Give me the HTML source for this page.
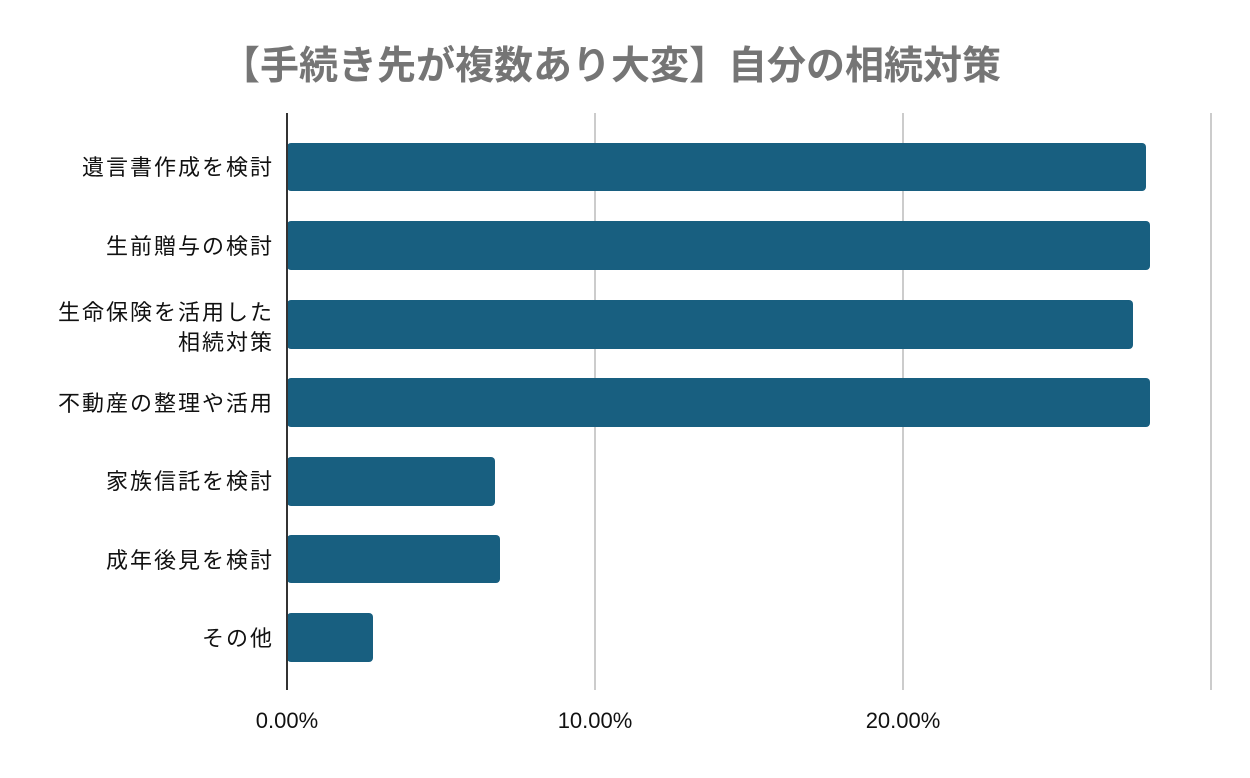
<!DOCTYPE html>
<html><head><meta charset="utf-8"><style>
body{margin:0;background:#fff;}
</style></head><body>
<svg width="1250" height="773" xmlns="http://www.w3.org/2000/svg">
<rect width="1250" height="773" fill="#fff"/>
<text x="611" y="79" text-anchor="middle" font-size="39" font-weight="bold" fill="#757575" font-family="Liberation Sans, Noto Sans CJK JP, sans-serif">【手続き先が複数あり大変】自分の相続対策</text>
<g stroke="#cccccc" stroke-width="2">
<line x1="595" y1="113" x2="595" y2="690"/>
<line x1="903" y1="113" x2="903" y2="690"/>
<line x1="1211" y1="113" x2="1211" y2="690"/>
</g>
<g fill="#185f80">
<rect x="287" y="143" width="859" height="48" rx="4"/>
<rect x="287" y="221" width="863" height="49" rx="4"/>
<rect x="287" y="300" width="846" height="49" rx="4"/>
<rect x="287" y="378" width="863" height="49" rx="4"/>
<rect x="287" y="457" width="208" height="49" rx="4"/>
<rect x="287" y="535" width="213" height="48" rx="4"/>
<rect x="287" y="613" width="86" height="49" rx="4"/>
</g>
<line x1="287" y1="113" x2="287" y2="690" stroke="#333" stroke-width="2"/>
<g font-size="22" letter-spacing="2" fill="#111" text-anchor="end" font-family="Liberation Sans, Noto Sans CJK JP, sans-serif">
<text x="274" y="175">遺言書作成を検討</text>
<text x="274" y="254">生前贈与の検討</text>
<text x="274" y="320">生命保険を活用した</text>
<text x="274" y="350">相続対策</text>
<text x="274" y="411">不動産の整理や活用</text>
<text x="274" y="489">家族信託を検討</text>
<text x="274" y="568">成年後見を検討</text>
<text x="274" y="646">その他</text>
</g>
<g font-size="22" fill="#111" text-anchor="middle" font-family="Liberation Sans, sans-serif">
<text x="287" y="728">0.00%</text>
<text x="595" y="728">10.00%</text>
<text x="903" y="728">20.00%</text>
</g>
</svg>
</body></html>
